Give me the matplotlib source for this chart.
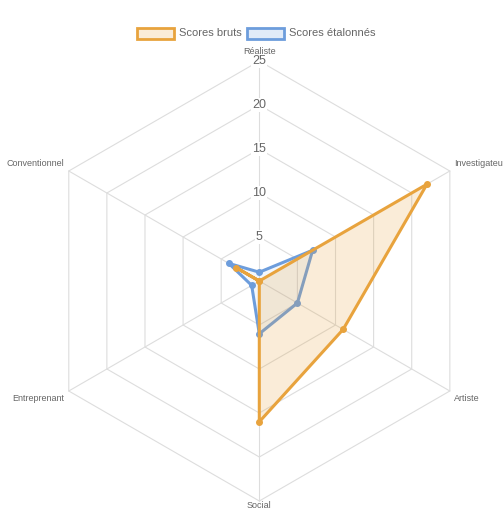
import numpy as np
import matplotlib.pyplot as plt
from matplotlib.patches import Rectangle

plt.rcParams['font.family'] = ['Liberation Sans', 'DejaVu Sans']

# Data
categories = ['Réaliste', 'Investigateur', 'Artiste', 'Social', 'Entreprenant', 'Conventionnel']
scores_bruts = [0, 22, 11, 16, 0, 3]
scores_etalonnes = [1, 7, 5, 6, 1, 4]
ticks = [5, 10, 15, 20, 25]
series_names = ['Scores bruts', 'Scores étalonnés']

orange = '#E8A33D'
blue = '#6D9DDC'
grid_col = '#DDDDDD'

W, H, DPI = 503, 516, 100
cx, cy, ppu = 259.3, 281, 8.8   # centre (px) and pixels per unit

fig = plt.figure(figsize=(W / DPI, H / DPI), dpi=DPI)
ax = fig.add_axes([0, 0, 1, 1])
ax.set_xlim(-cx / ppu, (W - cx) / ppu)
ax.set_ylim(-(H - cy) / ppu, cy / ppu)
ax.axis('off')

n = len(categories)
angles = np.arange(n) * 2 * np.pi / n


def to_xy(values):
    v = np.asarray(values, dtype=float)
    return v * np.sin(angles), v * np.cos(angles)


# hexagonal grid
for t in ticks:
    gx, gy = to_xy([t] * n)
    ax.plot(np.append(gx, gx[0]), np.append(gy, gy[0]), color=grid_col, lw=0.8, zorder=1)
# spokes
ox, oy = to_xy([ticks[-1]] * n)
for x, y in zip(ox, oy):
    ax.plot([0, x], [0, y], color=grid_col, lw=0.8, zorder=1)

# tick labels
for t in ticks:
    ax.text(0, t, str(t), ha='center', va='center', fontsize=9, color='#666666',
            bbox=dict(fc='white', ec='none', pad=0.6), zorder=2)

# point labels
lx, ly = to_xy([ticks[-1] + 0.6] * n)
for i, (name, x, y) in enumerate(zip(categories, lx, ly)):
    if abs(x) < 1e-6:
        ha = 'center'
        y = y + (0.5 if y > 0 else 0.1)
    elif x > 0:
        ha = 'left'
    else:
        ha = 'right'
    if abs(x) > 1e-6:
        y = y + (0.6 if y > 0 else -0.6)
    ax.text(x, y, name, ha=ha, va='center', fontsize=6.5, color='#666666', zorder=2)

# datasets: blue drawn first, orange on top
bx, by = to_xy(scores_etalonnes)
ax.fill(bx, by, color=blue, alpha=0.08, lw=0, zorder=3)
ax.plot(np.append(bx, bx[0]), np.append(by, by[0]), color=blue, lw=2.2, zorder=3)
ax.plot(bx, by, 'o', color=blue, ms=4, zorder=3)

rx, ry = to_xy(scores_bruts)
ax.fill(rx, ry, color=orange, alpha=0.2, lw=0, zorder=4)
ax.plot(np.append(rx, rx[0]), np.append(ry, ry[0]), color=orange, lw=2.2, zorder=4)
ax.plot(rx, ry, 'o', color=orange, ms=4, zorder=4)

# legend
legend_items = [(series_names[0], orange, 137), (series_names[1], blue, 247)]
for name, col, px in legend_items:
    fig.add_artist(Rectangle((px / W, 1 - 39 / H), 37 / W, 10.5 / H, transform=fig.transFigure,
                             fc=col, alpha=0.2, ec='none'))
    fig.add_artist(Rectangle((px / W, 1 - 39 / H), 37 / W, 10.5 / H, transform=fig.transFigure,
                             fc='none', ec=col, lw=2))
    fig.text((px + 42) / W, 1 - 33.5 / H, name, ha='left', va='center', fontsize=8, color='#666666')

plt.savefig('out.png', dpi=DPI)
